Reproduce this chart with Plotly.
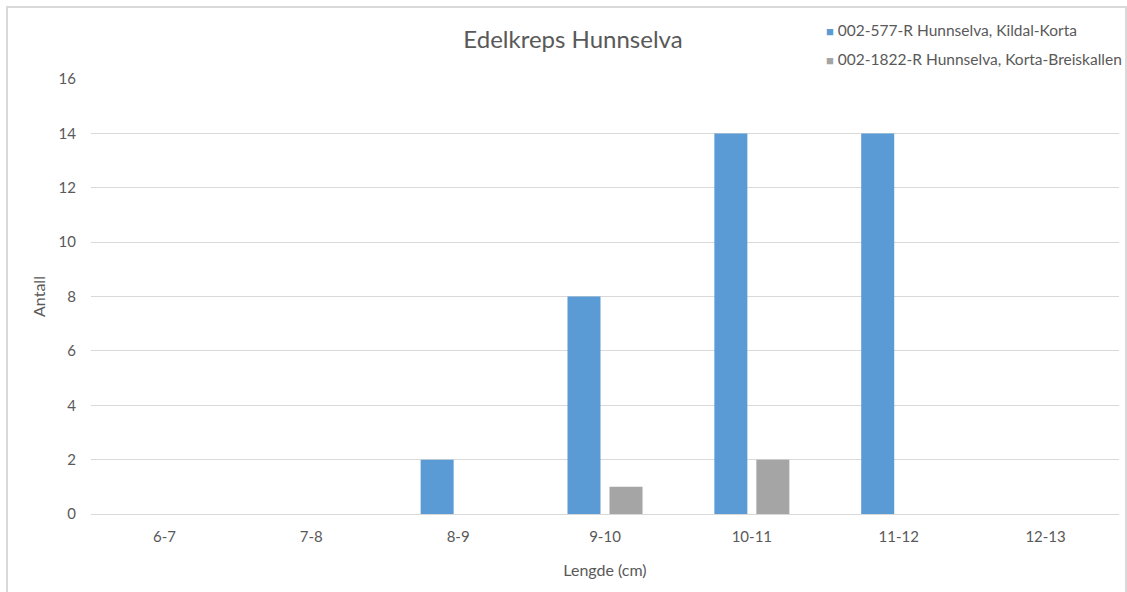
import plotly.graph_objects as go

# Length classes (cm) and counts per station
lengths = ["6-7", "7-8", "8-9", "9-10", "10-11", "11-12", "12-13"]
kildal_korta = [0, 0, 2, 8, 14, 14, 0]
korta_breiskallen = [0, 0, 0, 1, 2, 0, 0]

series_names = ["002-577-R Hunnselva, Kildal-Korta",
                "002-1822-R Hunnselva, Korta-Breiskallen"]
series_colors = ["#5B9BD5", "#A5A5A5"]

FONT = "Lato, Calibri, Carlito, sans-serif"
TEXT = "#595959"
GRID = "#D9D9D9"

W, H = 1127, 592
L, R, T, B = 91, 8, 79, 78
pw, ph = W - L - R, H - T - B


def px_x(p):
    return (p - L) / pw


def px_y(p):
    return (H - B - p) / ph


fig = go.Figure()
for name, vals, col in zip(series_names, [kildal_korta, korta_breiskallen], series_colors):
    fig.add_trace(go.Bar(x=lengths, y=vals, name=name, marker_color=col,
                         marker_line_width=0, showlegend=False))

# Compact legend: small coloured square followed by the series name
legend_rows = [30, 59]
annotations = []
for name, col, row in zip(series_names, series_colors, legend_rows):
    annotations.append(dict(
        xref="paper", yref="paper", x=px_x(824), y=px_y(row),
        xanchor="left", yanchor="middle", showarrow=False,
        text=f'<span style="color:{col};font-size:13px">■</span> {name}',
        font=dict(size=15.5, color=TEXT, family=FONT)))

fig.update_layout(
    width=W, height=H,
    margin=dict(l=L, r=R, t=T, b=B),
    paper_bgcolor="white", plot_bgcolor="white",
    font=dict(family=FONT, color=TEXT, size=15),
    barmode="group", bargap=0.428, bargroupgap=0.214,
    title=dict(text="Edelkreps Hunnselva", xref="container", x=573 / W,
               xanchor="center", yref="container", y=1 - 40 / H, yanchor="middle",
               font=dict(size=24, color=TEXT, family=FONT)),
    showlegend=False,
    annotations=annotations,
    xaxis=dict(type="category",
               title=dict(text="Lengde (cm)", font=dict(size=16, color=TEXT), standoff=20),
               showgrid=False, showline=False, zeroline=False, ticks="",
               ticklabelstandoff=12,
               tickfont=dict(size=15, color=TEXT)),
    yaxis=dict(title=dict(text="Antall", font=dict(size=16, color=TEXT), standoff=8),
               range=[0, 16], dtick=2, tick0=0, showgrid=True, gridcolor=GRID,
               gridwidth=1, zeroline=True, zerolinecolor=GRID, zerolinewidth=1,
               showline=False, ticks="", ticklabelstandoff=14,
               tickfont=dict(size=15, color=TEXT)),
    shapes=[dict(type="rect", xref="paper", yref="paper",
                 x0=px_x(7), x1=px_x(1126), y0=px_y(600), y1=px_y(7),
                 line=dict(color=GRID, width=2), fillcolor="rgba(0,0,0,0)",
                 layer="below")],
)

fig.write_html("out.html")
